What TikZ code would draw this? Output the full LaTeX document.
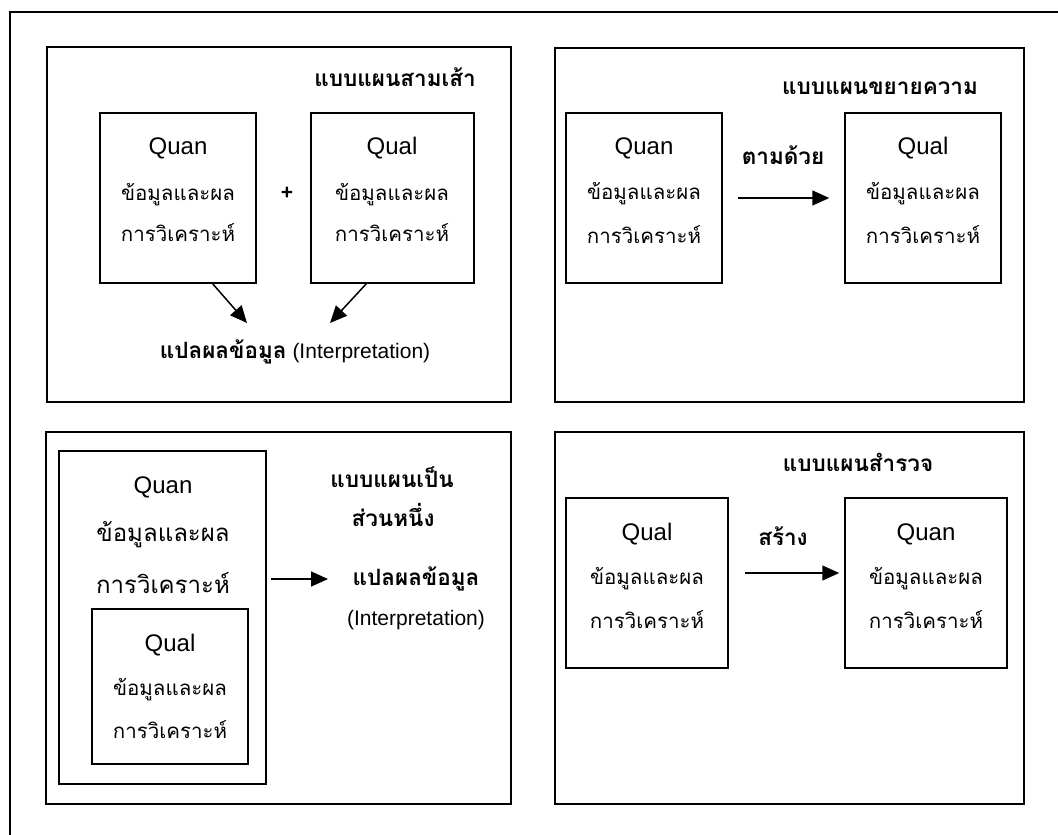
\documentclass[tikz,border=0pt]{standalone}
\usepackage{fontspec}
\setmainfont{Liberation Sans}
\newfontfamily\thaifont[Script=Thai]{Loma}
\usetikzlibrary{arrows.meta,positioning}

\tikzset{
  frame/.style={line width=1.2pt},
  panel/.style={draw,line width=1.5pt},
  databox/.style={draw,line width=1.5pt,inner sep=0pt},
  lat/.style={anchor=base,inner sep=0pt,font=\fontsize{24}{28}\selectfont},
  thai/.style={anchor=base,inner sep=0pt,font=\thaifont\fontsize{20.5}{24}\selectfont},
  thaibig/.style={anchor=base,inner sep=0pt,font=\thaifont\fontsize{24}{28}\selectfont},
  title/.style={anchor=base,inner sep=0pt,font=\thaifont\bfseries\fontsize{22.5}{27}\selectfont},
  interp/.style={anchor=base,inner sep=0pt,font=\fontsize{21}{25}\selectfont},
  arr/.style={-{Triangle[length=17pt,width=15pt]},line width=1.5pt}
}

\begin{document}
\begin{tikzpicture}[x=1pt,y=-1pt]
\useasboundingbox (0,0) rectangle (1058,835);
% outer frame (only top and left edges show)
\draw[frame] (10,835) -- (10,12) -- (1058,12);

% --- top left: triangulation
\draw[panel] (47,47) rectangle (511,402);
\node[title] (titleA) at (395,86) {แบบแผนสามเส้า};
\node[databox,minimum width=156pt,minimum height=170pt] (quanA) at (178,198) {};
\node[databox,minimum width=163pt,minimum height=170pt] (qualA) at (392.5,198) {};
\node[lat] (quanAt) at (178,154) {Quan};
\node[thai] (quanAa) at (178,200) {ข้อมูลและผล};
\node[thai] (quanAb) at (178,241) {การวิเคราะห์};
\node[lat] (qualAt) at (392,154) {Qual};
\node[thai] (qualAa) at (392,200) {ข้อมูลและผล};
\node[thai] (qualAb) at (392,241) {การวิเคราะห์};
\node[interp,anchor=center] (plus) at (287,193) {\textbf{+}};
\node[interp] (interpA) at (295,358) {{\thaifont\bfseries\fontsize{22.5}{27}\selectfont แปลผลข้อมูล} (Interpretation)};
\coordinate (tipA1) at (247,323);
\coordinate (tipA2) at (330,323);
\draw[arr] (quanA.-68) -- (tipA1);
\draw[arr] (qualA.-107) -- (tipA2);

% --- top right: explanatory
\draw[panel] (555,48) rectangle (1024,402);
\node[title] (titleB) at (880,94) {แบบแผนขยายความ};
\node[databox,minimum width=156pt,minimum height=170pt] (quanB) at (644,198) {};
\node[databox,minimum width=156pt,minimum height=170pt] (qualB) at (923,198) {};
\node[lat] (quanBt) at (644,154) {Quan};
\node[thai] (quanBa) at (644,199) {ข้อมูลและผล};
\node[thai] (quanBb) at (644,243) {การวิเคราะห์};
\node[lat] (qualBt) at (923,154) {Qual};
\node[thai] (qualBa) at (923,199) {ข้อมูลและผล};
\node[thai] (qualBb) at (923,243) {การวิเคราะห์};
\node[title] (followB) at (783,164) {ตามด้วย};
\draw[arr,shorten <=15pt,shorten >=15pt] (quanB.east) -- (qualB.west);

% --- bottom left: embedded
\draw[panel] (46,432) rectangle (511,804);
\node[databox,minimum width=207pt,minimum height=333pt] (quanC) at (162.5,617.5) {};
\node[databox,minimum width=156pt,minimum height=155pt] (qualC) at (170,686.5) {};
\node[lat] (quanCt) at (163,493) {Quan};
\node[thaibig] (quanCa) at (163,541) {ข้อมูลและผล};
\node[thaibig] (quanCb) at (163,593) {การวิเคราะห์};
\node[lat] (qualCt) at (170,651) {Qual};
\node[thai] (qualCa) at (170,695) {ข้อมูลและผล};
\node[thai] (qualCb) at (170,738) {การวิเคราะห์};
\node[title] (titleC1) at (392,487) {แบบแผนเป็น};
\node[title] (titleC2) at (393,526) {ส่วนหนึ่ง};
\node[title] (interpC1) at (416,585) {แปลผลข้อมูล};
\node[interp] (interpC2) at (416,625) {(Interpretation)};
\coordinate (tipC) at (328,579);
\draw[arr,shorten <=4pt] (quanC.east |- tipC) -- (tipC);

% --- bottom right: exploratory
\draw[panel] (555,432) rectangle (1024,804);
\node[title] (titleD) at (858,471) {แบบแผนสำรวจ};
\node[databox,minimum width=162pt,minimum height=170pt] (qualD) at (647,583) {};
\node[databox,minimum width=162pt,minimum height=170pt] (quanD) at (926,583) {};
\node[lat] (qualDt) at (647,540) {Qual};
\node[thai] (qualDa) at (647,584) {ข้อมูลและผล};
\node[thai] (qualDb) at (647,628) {การวิเคราะห์};
\node[lat] (quanDt) at (926,540) {Quan};
\node[thai] (quanDa) at (926,584) {ข้อมูลและผล};
\node[thai] (quanDb) at (926,628) {การวิเคราะห์};
\node[title] (buildD) at (783,545) {สร้าง};
\draw[arr,shorten <=16pt,shorten >=5pt] ([yshift=10pt]qualD.east) -- ([yshift=10pt]quanD.west);
\end{tikzpicture}
\end{document}
